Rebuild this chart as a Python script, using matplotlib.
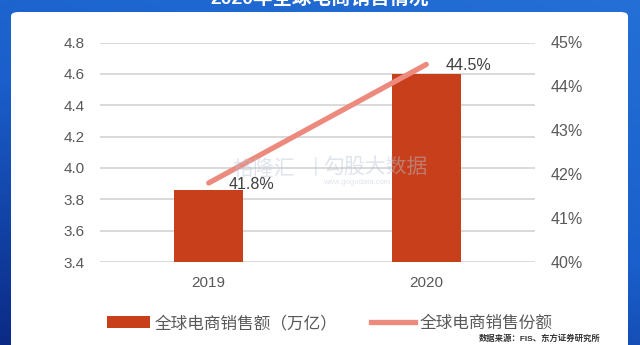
import numpy as np
import matplotlib
matplotlib.use("Agg")
import matplotlib.pyplot as plt
from matplotlib.patches import FancyBboxPatch, Patch
from matplotlib.lines import Line2D
from matplotlib.colors import LinearSegmentedColormap

plt.rcParams['font.family'] = ['Liberation Sans', 'Noto Sans CJK SC', 'DejaVu Sans']

# Data
years = ['2019', '2020']
sales = [3.86, 4.60]          # 全球电商销售额（万亿）
share = [41.8, 44.5]          # 全球电商销售份额 (%)
left_ticks = [3.4, 3.6, 3.8, 4.0, 4.2, 4.4, 4.6, 4.8]
right_ticks = [40, 41, 42, 43, 44, 45]

title = '2020年全球电商销售情况'
bar_label = '全球电商销售额（万亿）'
line_label = '全球电商销售份额'
source = '数据来源：FIS、东方证券研究所'

BAR_COLOR = '#C8401B'
LINE_COLOR = '#EC8A7E'
TEXT_GRAY = '#595959'

W, H = 640, 345
fig = plt.figure(figsize=(W / 100, H / 100), dpi=100)

# Blue gradient frame behind everything
bg = fig.add_axes([0, 0, 1, 1], zorder=-10)
bg.set_axis_off()
yy, xx = np.mgrid[0:1:200j, 0:1:200j]
grad = 0.65 * (1 - yy) + 0.35 * xx
cmap = LinearSegmentedColormap.from_list('frame', ['#0B2A86', '#1A5FCB', '#2470D6'])
bg.imshow(grad, cmap=cmap, aspect='auto', extent=[0, 1, 0, 1], origin='upper')
bg.set_xlim(0, 1)
bg.set_ylim(0, 1)

# White rounded panel
panel = FancyBboxPatch((11 / W, -0.1), (628 - 11) / W, (345 - 12) / H + 0.1,
                       boxstyle='round,pad=0,rounding_size=0.012',
                       transform=bg.transAxes, facecolor='white', edgecolor='none')
bg.add_patch(panel)

# Title (white on the blue band, running off the top edge)
fig.text(0.5, 1 - 8 / H, title, ha='center', va='bottom', color='white',
         fontsize=14, fontweight='bold')

# Main axes
ax = fig.add_axes([100 / W, (H - 262) / H, 435 / W, (262 - 42.5) / H])
ax.set_facecolor('none')
x = np.arange(len(years))
ax.bar(x, sales, width=0.317, color=BAR_COLOR, zorder=3)
ax.set_xlim(-0.5, 1.5)
ax.set_ylim(3.4, 4.8)
ax.set_yticks(left_ticks)
ax.set_yticklabels([f'{v:.1f}' for v in left_ticks])
ax.set_xticks(x)
ax.set_xticklabels(years)
ax.grid(axis='y', color='#D9D9D9', linewidth=1.4, zorder=0)
ax.set_axisbelow(True)
for s in ax.spines.values():
    s.set_visible(False)
ax.tick_params(axis='y', length=0, pad=11, labelsize=11, labelcolor=TEXT_GRAY)
ax.tick_params(axis='x', length=0, pad=10, labelsize=11, labelcolor=TEXT_GRAY)

# Secondary axis for share line
ax2 = ax.twinx()
ax2.set_ylim(40, 45)
ax2.set_yticks(right_ticks)
ax2.set_yticklabels([f'{v}%' for v in right_ticks])
for s in ax2.spines.values():
    s.set_visible(False)
ax2.tick_params(axis='y', length=0, pad=11, labelsize=11.5, labelcolor=TEXT_GRAY)
ax2.plot(x, share, color=LINE_COLOR, linewidth=3.8, solid_capstyle='round', zorder=4)
for xi, v in zip(x, share):
    ax2.annotate(f'{v}%', (xi, v), xytext=(14, -1), textcoords='offset points',
                 ha='left', va='center', fontsize=11.5, color='#404040', zorder=5)

# Faint watermark
wm_color = '#B8C4D8'
fig.text(232 / W, (H - 169) / H, '格隆汇', ha='left', va='center', fontsize=15,
         color=wm_color, alpha=0.45)
fig.text(312 / W, (H - 167) / H, '|', ha='left', va='center', fontsize=15,
         color=wm_color, alpha=0.35)
fig.text(323 / W, (H - 167) / H, '勾股大数据', ha='left', va='center', fontsize=15,
         color=wm_color, alpha=0.45)
fig.text(323 / W, (H - 182) / H, 'www.gogudata.com', ha='left', va='center', fontsize=5.5,
         color=wm_color, alpha=0.45)

# Legend
handles = [Patch(facecolor=BAR_COLOR, edgecolor='none', label=bar_label),
           Line2D([0], [0], color=LINE_COLOR, linewidth=3.8, label=line_label)]
leg = fig.legend(handles=handles, loc='center', bbox_to_anchor=(0.515, (H - 323) / H),
                 ncol=2, frameon=False, fontsize=12, handlelength=2.6,
                 handletextpad=0.3, columnspacing=2.0, handleheight=0.7)
for t in leg.get_texts():
    t.set_color(TEXT_GRAY)

# Source note
fig.text(601 / W, (H - 339) / H, source, ha='right', va='center', fontsize=6,
         color='#333333', fontweight='bold')

fig.savefig('out.png', dpi=100)
